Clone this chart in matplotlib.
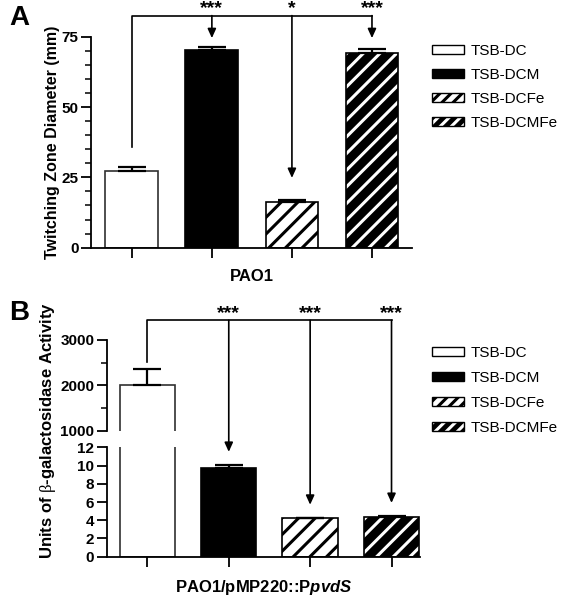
import matplotlib
matplotlib.use('Agg')
import matplotlib.pyplot as plt
from matplotlib.patches import Patch
from matplotlib.legend_handler import HandlerTuple

plt.rcParams['font.family'] = ['Liberation Sans', 'DejaVu Sans']
plt.rcParams['mathtext.fontset'] = 'custom'
plt.rcParams['mathtext.rm'] = 'Liberation Serif'
plt.rcParams['mathtext.it'] = 'Liberation Sans:italic:bold'
plt.rcParams['hatch.linewidth'] = 2.2

# data
groups = ['TSB-DC', 'TSB-DCM', 'TSB-DCFe', 'TSB-DCMFe']
twitch_mean = [27.3, 70.3, 16.1, 69.2]
twitch_err = [1.4, 1.0, 0.9, 1.5]
galacto_mean = [2000, 9.7, 4.2, 4.4]
galacto_err = [350, 0.35, 0.05, 0.05]

# significance marks
sig_A = ['***', '*', '***']
arrow_tip_A = [74.5, 24.8, 74.5]
sig_B = ['***', '***', '***']
arrow_tip_B = [11.5, 5.7, 5.9]

W, H = 566, 601
fig = plt.figure(figsize=(W / 100, H / 100), dpi=100)

def px_axes(l, t, r, b):
    return fig.add_axes([l / W, 1 - b / H, (r - l) / W, (b - t) / H])

x = [1, 2, 3, 4]

def draw_bars(ax, means, errs, width):
    styles = [
        dict(facecolor='white', edgecolor='#303030'),
        dict(facecolor='black', edgecolor='black'),
        dict(facecolor='white', edgecolor='black', hatch='//'),
    ]
    for i in range(3):
        ax.bar(x[i], means[i], width=width, linewidth=1.2, **styles[i])
    # black bar with white stripes
    ax.bar(x[3], means[3], width=width, facecolor='black', edgecolor='white',
           hatch='//', linewidth=0)
    ax.bar(x[3], means[3], width=width, fill=False, edgecolor='black', linewidth=1.2)
    ax.errorbar(x, means, yerr=[[0] * 4, errs], fmt='none', ecolor='black',
                elinewidth=1.6, capsize=10, capthick=1.6)

def style_axis(ax):
    for s in ['top', 'right']:
        ax.spines[s].set_visible(False)
    for s in ['left', 'bottom']:
        ax.spines[s].set_linewidth(1.3)
    ax.tick_params(axis='y', which='major', length=7, width=1.3, labelsize=11, pad=2)
    ax.tick_params(axis='y', which='minor', length=4, width=1.1)
    ax.tick_params(axis='x', length=7, width=1.3, labelbottom=False)
    for lab in ax.get_yticklabels():
        lab.set_fontweight('bold')
    ax.patch.set_visible(False)

def star_text(ax, xi, yb, lab):
    ax.annotate(lab, xy=(xi, yb), xytext=(0, 1.5), textcoords='offset points',
                ha='center', va='baseline', fontsize=14, fontweight='bold',
                annotation_clip=False)

# ---------------- panel A
axA = px_axes(91, 36.7, 412, 247.7)
draw_bars(axA, twitch_mean, twitch_err, 0.66)
axA.set_xlim(0.49, 4.5)
axA.set_ylim(0, 75)
axA.set_yticks([0, 25, 50, 75])
axA.set_yticks(range(0, 76, 5), minor=True)
axA.set_xticks(x)
style_axis(axA)
axA.set_xlabel('PAO1', fontsize=12, fontweight='bold', labelpad=8)
axA.set_ylabel('Twitching Zone Diameter (mm)', fontsize=11.5, fontweight='bold', labelpad=1)

bracket_A = 82.5
axA.plot([1, 1, 4], [35.9, bracket_A, bracket_A], color='black', lw=1.2, clip_on=False)
for xi, tip, lab in zip(x[1:], arrow_tip_A, sig_A):
    axA.annotate('', xy=(xi, tip), xytext=(xi, bracket_A),
                 arrowprops=dict(arrowstyle='-|>,head_length=0.55,head_width=0.25',
                                 color='black', lw=1.2, shrinkA=0, shrinkB=0),
                 annotation_clip=False)
    star_text(axA, xi, bracket_A, lab)

# ---------------- panel B (broken axis)
axB_low = px_axes(106.7, 447.3, 420, 556.7)
axB_up = px_axes(106.7, 340, 420, 430.7)
for ax in (axB_low, axB_up):
    draw_bars(ax, galacto_mean, galacto_err, 0.68)
    ax.set_xlim(0.5, 4.35)
axB_low.set_ylim(0, 12)
axB_low.set_yticks(range(0, 13, 2))
axB_low.set_xticks(x)
style_axis(axB_low)
axB_up.set_ylim(1000, 3000)
axB_up.set_yticks([1000, 2000, 3000])
axB_up.set_yticks([1500, 2500], minor=True)
style_axis(axB_up)
axB_up.spines['bottom'].set_visible(False)
axB_up.set_xticks([])

axB_low.set_xlabel(r'PAO1/pMP220::P$\it{pvdS}$', fontsize=12, fontweight='bold', labelpad=8)
fig.text(48 / W, 1 - 430 / H, r'Units of $\mathrm{\beta}$-galactosidase Activity',
         rotation=90, ha='center', va='center', fontsize=12, fontweight='bold')

bracket_B = 3435
axB_up.plot([1, 1, 4], [2522, bracket_B, bracket_B], color='black', lw=1.2, clip_on=False)
for xi, tip, lab in zip(x[1:], arrow_tip_B, sig_B):
    axB_low.annotate('', xy=(xi, tip), xycoords='data',
                     xytext=(xi, bracket_B), textcoords=axB_up.transData,
                     arrowprops=dict(arrowstyle='-|>,head_length=0.55,head_width=0.25',
                                     color='black', lw=1.2, shrinkA=0, shrinkB=0),
                     annotation_clip=False)
    star_text(axB_up, xi, bracket_B, lab)

# ---------------- panel letters
fig.text(9 / W, 1 - 5 / H, 'A', fontsize=20, fontweight='bold', va='top')
fig.text(9 / W, 1 - 300 / H, 'B', fontsize=20, fontweight='bold', va='top')

# ---------------- legends
def legend_handles():
    h1 = Patch(facecolor='white', edgecolor='black', linewidth=1)
    h2 = Patch(facecolor='black', edgecolor='black', linewidth=1)
    h3 = Patch(facecolor='white', edgecolor='black', hatch='///', linewidth=1)
    h4a = Patch(facecolor='black', edgecolor='white', hatch='///', linewidth=0)
    h4b = Patch(fill=False, edgecolor='black', linewidth=1)
    return [h1, h2, h3, (h4a, h4b)]

for top, sp in ((44, 0.65), (346, 0.72)):
    fig.legend(legend_handles(), groups, loc='upper left',
               bbox_to_anchor=(432 / W, 1 - top / H), frameon=False,
               fontsize=11, handlelength=2.1, handleheight=0.5,
               handletextpad=0.4, labelspacing=sp, borderpad=0, borderaxespad=0,
               handler_map={tuple: HandlerTuple(ndivide=1, pad=0)})

fig.savefig('out.png', dpi=100)
